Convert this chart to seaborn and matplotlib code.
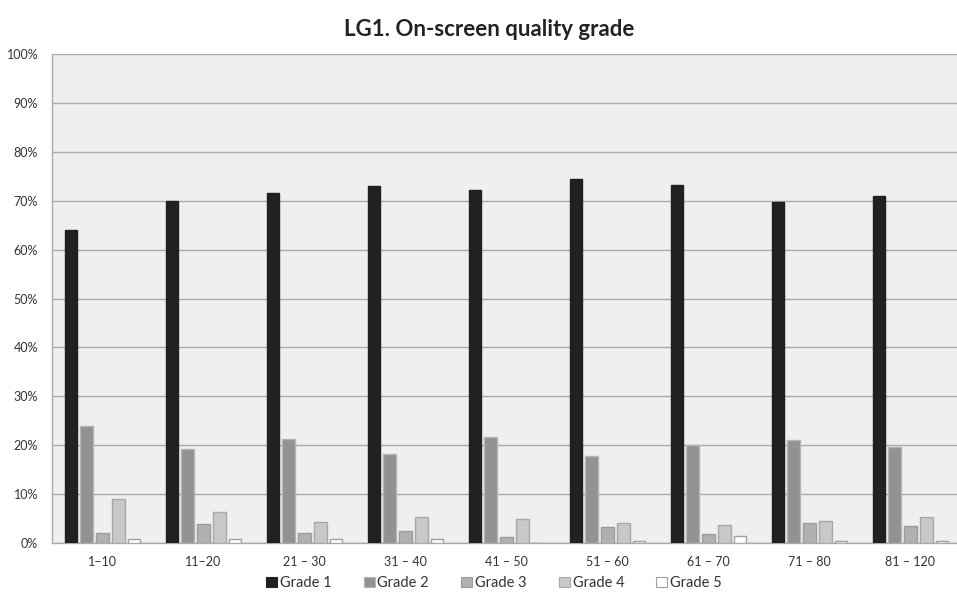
import numpy as np
import pandas as pd
import matplotlib
matplotlib.use("Agg")
import matplotlib.pyplot as plt
import seaborn as sns
from matplotlib.ticker import PercentFormatter

groups = ["1–10", "11–20", "21 – 30", "31 – 40", "41 – 50", "51 – 60", "61 – 70", "71 – 80", "81 – 120"]
grades = ["Grade 1", "Grade 2", "Grade 3", "Grade 4", "Grade 5"]

grade1 = [64.0, 69.9, 71.5, 73.0, 72.2, 74.5, 73.2, 69.7, 71.0]
grade2 = [23.9, 19.2, 21.3, 18.3, 21.6, 17.8, 20.1, 21.1, 19.6]
grade3 = [2.0, 3.8, 2.0, 2.45, 1.3, 3.2, 1.8, 4.0, 3.4]
grade4 = [9.1, 6.3, 4.2, 5.4, 4.9, 4.0, 3.6, 4.6, 5.4]
grade5 = [0.75, 0.75, 0.75, 0.75, 0.0, 0.5, 1.35, 0.5, 0.5]

fills = ["#231f20", "#929294", "#b0b0b3", "#c8c8ca", "#ffffff"]
edges = ["#231f20", "#b4b4b6", "#9c9c9e", "#a8a8aa", "#a0a0a2"]

df = pd.DataFrame({
    "group": np.tile(groups, len(grades)),
    "grade": np.repeat(grades, len(groups)),
    "value": grade1 + grade2 + grade3 + grade4 + grade5,
})

sns.set_style("white")
plt.rcParams["font.family"] = ["Lato", "DejaVu Sans"]

fig = plt.figure(figsize=(9.57, 6.02), dpi=100)
ax = fig.add_axes([52 / 957, 59 / 602, 909 / 957, 489 / 602])
ax.set_facecolor("#eeeff1")

sns.barplot(data=df, x="group", y="value", hue="grade", order=groups, hue_order=grades,
            palette=fills, width=0.78, gap=0.2, ax=ax, legend=False, linewidth=1)

for cont, ec in zip(ax.containers, edges):
    for bar in cont:
        bar.set_edgecolor(ec)
        bar.set_zorder(3)

ax.set_ylim(0, 100)
ax.set_xlim(-0.5, 8.5)
ax.set_yticks(np.arange(0, 101, 10))
ax.yaxis.set_major_formatter(PercentFormatter(decimals=0))
ax.grid(axis="y", color="#a9a9ab", linewidth=1)
ax.set_axisbelow(True)
ax.tick_params(axis="both", length=0, labelsize=9, colors="#333333")
ax.tick_params(axis="y", pad=10)
ax.tick_params(axis="x", pad=9)
ax.set_xlabel("")
ax.set_ylabel("")
for side in ["top", "right"]:
    ax.spines[side].set_visible(False)
for side in ["left", "bottom"]:
    ax.spines[side].set_color("#a9a9ab")
    ax.spines[side].set_linewidth(1)

fig.text(489 / 957, 1 - 30 / 602, "LG1. On-screen quality grade", ha="center", va="center",
         fontsize=16, fontweight="bold", color="#222222")

handles = [plt.Rectangle((0, 0), 1, 1, facecolor=f, edgecolor=e, linewidth=0.8)
           for f, e in zip(fills, edges)]
fig.legend(handles, grades, loc="center", bbox_to_anchor=(494 / 957, 1 - 583 / 602), ncol=5,
           frameon=False, fontsize=10.5, handlelength=0.75, handleheight=0.75,
           handletextpad=0.2, columnspacing=2.2, labelcolor="#333333")

fig.savefig("out.png", dpi=100)
